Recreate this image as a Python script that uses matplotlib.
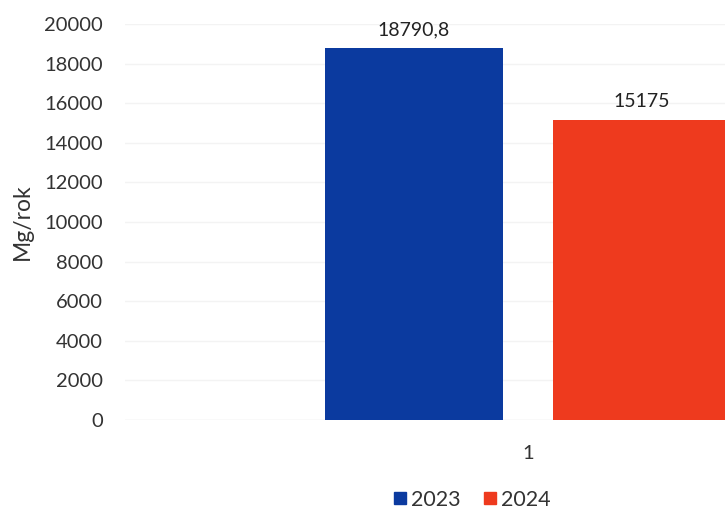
import matplotlib.pyplot as plt
import matplotlib as mpl
from matplotlib.lines import Line2D

mpl.rcParams['font.family'] = ['Lato', 'DejaVu Sans']

# dane
categories = ['1']
years = ['2023', '2024']
values = [18790.8, 15175]
labels = ['18790,8', '15175']
colors = ['#0b3a9f', '#ee3a1e']

fig = plt.figure(figsize=(7.25, 5.11), dpi=100)
# wykres jest ucięty z prawej strony, więc osie wychodzą poza figurę
ax = fig.add_axes([125 / 725, 1 - 420 / 511, 806 / 725, 396 / 511])

width = 0.36
gap = 0.101
offs = [-(width + gap) / 2, (width + gap) / 2]
for i in range(len(years)):
    ax.bar(offs[i], values[i], width=width, color=colors[i], zorder=3)
    ax.text(offs[i], values[i] + 500, labels[i], ha='center', va='bottom',
            fontsize=14, color='#222222')

ax.set_xlim(-0.815, 0.815)
ax.set_ylim(0, 20000)
ax.set_yticks(range(0, 20001, 2000))
ax.set_xticks([0])
ax.set_xticklabels(categories)
ax.tick_params(axis='y', length=0, pad=16, labelsize=14.5, labelcolor='#333333')
ax.tick_params(axis='x', length=0, pad=18, labelsize=14.5, labelcolor='#333333')
ax.grid(axis='y', color='#f3f3f3', lw=1, zorder=0)
for s in ax.spines.values():
    s.set_visible(False)
ax.axhline(0, color='#ededed', lw=1, zorder=2)

fig.text(22 / 725, 1 - 222 / 511, 'Mg/rok', rotation=90, ha='center', va='center',
         fontsize=16.5, color='#333333')

handles = [Line2D([], [], marker='s', ls='', color=c, markersize=8) for c in colors]
fig.legend(handles, years, loc='center', bbox_to_anchor=(471 / 725, 1 - 500 / 511),
           ncol=2, frameon=False, fontsize=15.5, handletextpad=0.1, columnspacing=1.0,
           handlelength=0.8, labelcolor='#333333')

fig.savefig('out.png', dpi=100)
